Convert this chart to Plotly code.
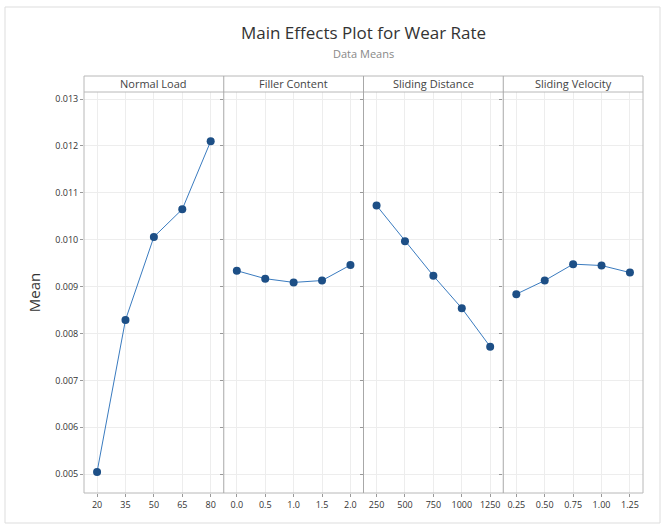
import plotly.graph_objects as go
from plotly.subplots import make_subplots

factors = ["Normal Load", "Filler Content", "Sliding Distance", "Sliding Velocity"]
levels = [
    ["20", "35", "50", "65", "80"],
    ["0.0", "0.5", "1.0", "1.5", "2.0"],
    ["250", "500", "750", "1000", "1250"],
    ["0.25", "0.50", "0.75", "1.00", "1.25"],
]
means = [
    [0.00505, 0.00829, 0.01006, 0.01065, 0.01210],
    [0.00934, 0.00917, 0.00909, 0.00913, 0.00946],
    [0.01073, 0.00997, 0.00923, 0.00854, 0.00772],
    [0.00884, 0.00913, 0.00948, 0.00945, 0.00930],
]
y_ticks = [0.005, 0.006, 0.007, 0.008, 0.009, 0.010, 0.011, 0.012, 0.013]

W, H = 667, 529
L, R, T, B = 84, 24, 92, 36
pw, ph = W - L - R, H - T - B

fig = make_subplots(rows=1, cols=4, shared_yaxes=True, horizontal_spacing=0)
for i, (lv, mv) in enumerate(zip(levels, means)):
    pos = list(range(1, len(lv) + 1))
    fig.add_trace(go.Scatter(
        x=pos, y=mv, mode="lines+markers",
        line=dict(color="#3a7bbf", width=1),
        marker=dict(color="#1d4f86", size=8),
        showlegend=False), row=1, col=i + 1)
    fig.update_xaxes(tickvals=pos, ticktext=lv, range=[0.54, 5.46],
                     showgrid=True, gridcolor="#ededed", gridwidth=1,
                     ticks="outside", ticklen=3, tickcolor="#999",
                     tickfont=dict(size=9, color="#333"), zeroline=False,
                     showline=False, automargin=False, row=1, col=i + 1)

fig.update_yaxes(tickvals=y_ticks, ticktext=[f"{v:.3f}" for v in y_ticks],
                 range=[0.00460, 0.01315], showgrid=True, gridcolor="#ededed",
                 ticks="outside", ticklen=3, tickcolor="#999", zeroline=False,
                 tickfont=dict(size=9, color="#333"), showline=False, automargin=False)
fig.update_yaxes(title=dict(text="Mean", font=dict(size=15, color="#333"), standoff=10),
                 row=1, col=1)

shapes = []
strip_h = 16 / ph
# plot frame
shapes.append(dict(type="rect", xref="paper", yref="paper", x0=0, x1=1, y0=0, y1=1 + strip_h,
                   line=dict(color="#b8b8b8", width=1)))
# strip bottom line
shapes.append(dict(type="line", xref="paper", yref="paper", x0=0, x1=1, y0=1, y1=1,
                   line=dict(color="#b8b8b8", width=1)))
# dividers
for k in range(1, 4):
    shapes.append(dict(type="line", xref="paper", yref="paper", x0=k / 4, x1=k / 4,
                       y0=0, y1=1 + strip_h, line=dict(color="#a8a8a8", width=1)))
# outer figure frame
shapes.append(dict(type="rect", xref="paper", yref="paper",
                   x0=(5 - L) / pw, x1=(660 - L) / pw,
                   y0=-(523 - (T + ph)) / ph, y1=(T + ph - 7) / ph,
                   line=dict(color="#dddddd", width=1)))

annotations = []
for k, name in enumerate(factors):
    annotations.append(dict(text=name, xref="paper", yref="paper", x=(k + 0.5) / 4,
                            y=1 + strip_h / 2, showarrow=False, yanchor="middle",
                            xanchor="center", font=dict(size=11, color="#444")))
annotations.append(dict(text="Main Effects Plot for Wear Rate", xref="paper", yref="paper",
                        x=0.5, y=(T + ph - 33) / ph, showarrow=False, yanchor="middle",
                        xanchor="center", font=dict(size=17, color="#333")))
annotations.append(dict(text="Data Means", xref="paper", yref="paper",
                        x=0.5, y=(T + ph - 54) / ph, showarrow=False, yanchor="middle",
                        xanchor="center", font=dict(size=11, color="#888")))

fig.update_layout(
    width=W, height=H, margin=dict(l=L, r=R, t=T, b=B, autoexpand=False),
    paper_bgcolor="white", plot_bgcolor="white",
    font=dict(family="Open Sans, sans-serif"),
    shapes=shapes, annotations=annotations,
)
fig.write_html("out.html", config={"displayModeBar": False},
               post_script="document.body.style.margin='0px';")
